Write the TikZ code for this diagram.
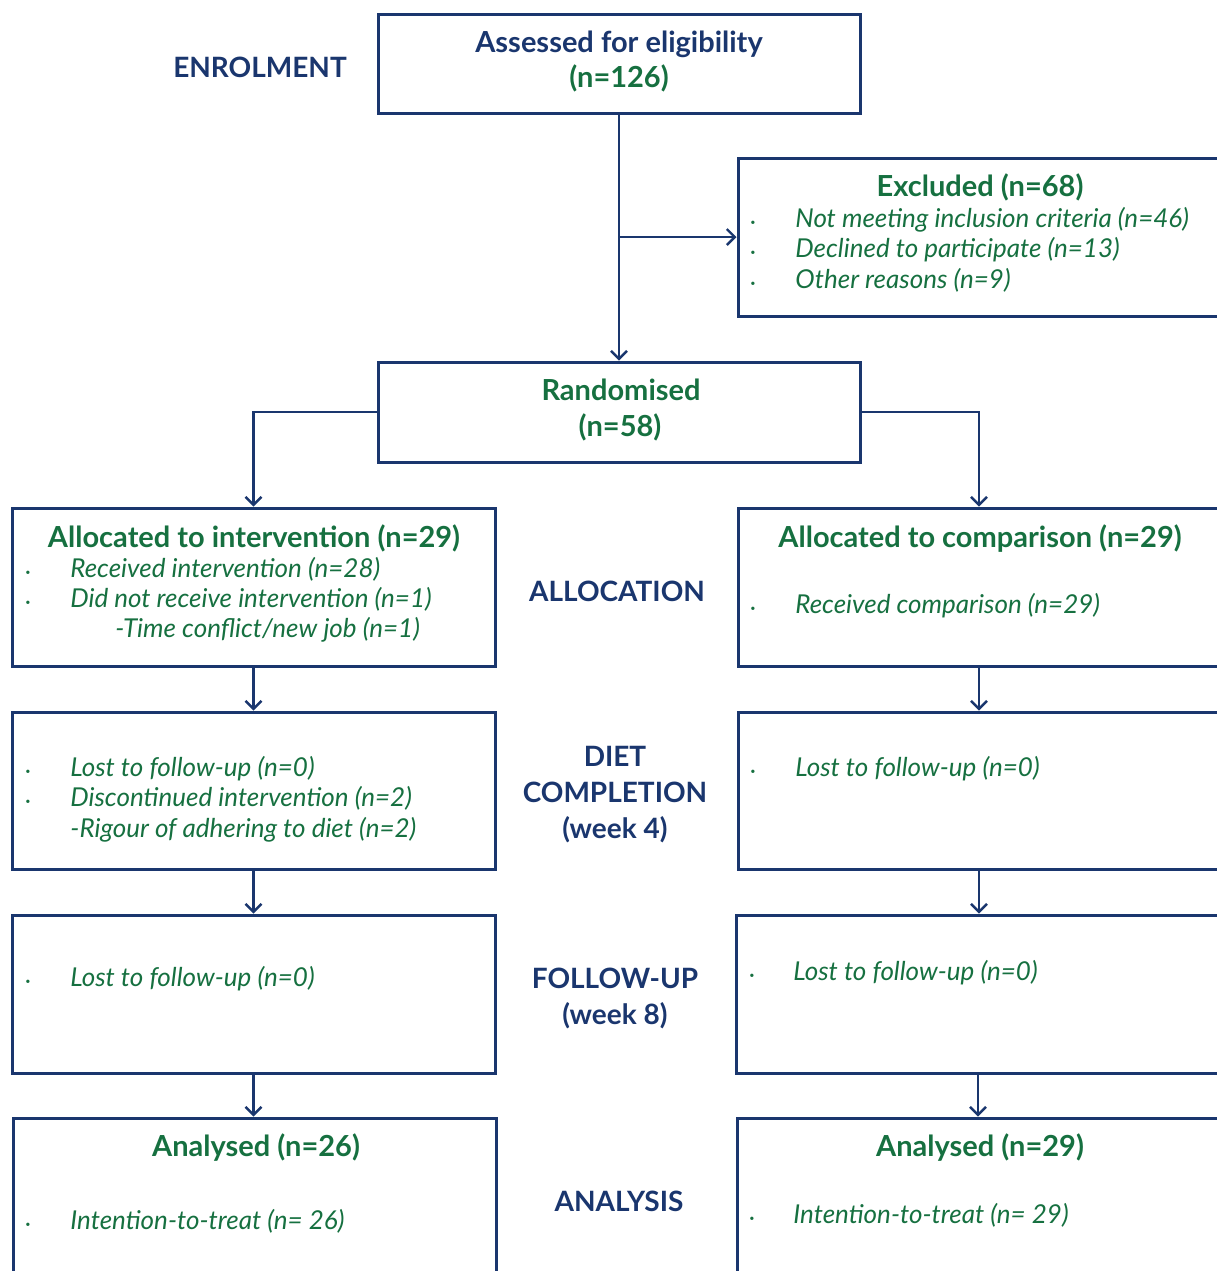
\documentclass[tikz,border=0pt]{standalone}
\usepackage{fontspec}
\setmainfont{Lato}
\usetikzlibrary{arrows.meta}
\definecolor{navy}{RGB}{26,54,110}
\definecolor{grn}{RGB}{22,112,64}
\begin{document}
\begin{tikzpicture}[x=0.5pt,y=-0.5pt,
 box/.style={draw=navy,line width=1.5pt,rectangle,inner sep=0pt},
 conn/.style={draw=navy,line width=1.4pt,-{Straight Barb[length=4pt,width=8pt,line width=1.2pt]}},
 lab/.style={text=navy,font=\bfseries\fontsize{14}{18}\selectfont,align=center,inner sep=0pt},
 ttl/.style={text=grn,font=\bfseries\fontsize{14.5}{16}\selectfont,anchor=base,inner sep=0pt},
 navt/.style={text=navy,font=\bfseries\fontsize{14.5}{16}\selectfont,anchor=base,inner sep=0pt},
 itm/.style={text=grn,font=\itshape\fontsize{13}{15}\selectfont,anchor=base west,inner sep=0pt},
 bul/.style={text=grn,font=\fontsize{4.5}{5}\selectfont,anchor=base,inner sep=0pt,yshift=1pt},
]
\useasboundingbox (0,0) rectangle (1217,1271);
\clip (0,0) rectangle (1217,1271);
% boxes
\node[box,minimum width=241pt,minimum height=49.5pt] (assess) at (619,63.5) {};
\node[box,minimum width=241pt,minimum height=79pt] (excl) at (979,237) {};
\node[box,minimum width=241pt,minimum height=50pt] (rand) at (619,412) {};
\node[box,minimum width=241.5pt,minimum height=79pt] (ai) at (253.5,587) {};
\node[box,minimum width=241pt,minimum height=79pt] (ac) at (979,587) {};
\node[box,minimum width=241.5pt,minimum height=78.5pt] (dl) at (253.5,790.5) {};
\node[box,minimum width=241pt,minimum height=78.5pt] (dr) at (979,790.5) {};
\node[box,minimum width=241.5pt,minimum height=79pt] (fl) at (253.5,994) {};
\node[box,minimum width=242pt,minimum height=79pt] (fr) at (978,994) {};
\node[box,minimum width=241.5pt,minimum height=86pt] (al) at (254.5,1204) {};
\node[box,minimum width=241.5pt,minimum height=86pt] (ar) at (978.5,1204) {};
% connectors
\draw[conn] (assess.south) -- (rand.north);
\draw[conn] (assess.south |- excl.west) -- (excl.west);
\draw[conn] (rand.west) -| (ai.north);
\draw[conn] (rand.east) -| (ac.north);
\draw[conn] (ai.south) -- (dl.north);
\draw[conn] (ac.south) -- (dr.north);
\draw[conn] (dl.south) -- (fl.north);
\draw[conn] (dr.south) -- (dr.south |- fr.north);
\draw[conn] (fl.south) -- (fl.south |- al.north);
\draw[conn] (fr.south) -- (fr.south |- ar.north);
% stage labels
\node[lab] (enrol) at (260,67) {ENROLMENT};
\node[lab] (alloc) at (617,591) {ALLOCATION};
\node[lab] (diet) at (615,795) {DIET\\COMPLETION\\(week 4)};
\node[lab] (fu) at (615,998) {FOLLOW-UP\\(week 8)};
\node[lab] (ana) at (619,1201) {ANALYSIS};
% assessed
\node[navt] (t1) at (619,52) {Assessed for eligibility};
\node[ttl] (t2) at (619,87) {(n=126)};
% excluded
\node[ttl] (t3) at (980,196) {Excluded (n=68)};
\node[bul] (b1) at (753,227) {\textbullet};
\node[itm] (e1) at (795,227) {Not meeting inclusion criteria (n=46)};
\node[bul] (b2) at (753,257) {\textbullet};
\node[itm] (e2) at (795,257) {Declined to participate (n=13)};
\node[bul] (b3) at (753,288) {\textbullet};
\node[itm] (e3) at (795,288) {Other reasons (n=9)};
% randomised
\node[ttl] (t4) at (621,400) {Randomised};
\node[ttl] (t5) at (620,436) {(n=58)};
% allocation left
\node[ttl] (t6) at (254,547) {Allocated to intervention (n=29)};
\node[bul] (b4) at (28,577) {\textbullet};
\node[itm] (a1) at (70,577) {Received intervention (n=28)};
\node[bul] (b5) at (28,607) {\textbullet};
\node[itm] (a2) at (70,607) {Did not receive intervention (n=1)};
\node[itm] (a3) at (115,637) {-Time conflict/new job (n=1)};
% allocation right
\node[ttl] (t7) at (980,547) {Allocated to comparison (n=29)};
\node[bul] (b6) at (753,613) {\textbullet};
\node[itm] (c1) at (795,613) {Received comparison (n=29)};
% diet left
\node[bul] (b7) at (28,776) {\textbullet};
\node[itm] (d1) at (70,776) {Lost to follow-up (n=0)};
\node[bul] (b8) at (28,806) {\textbullet};
\node[itm] (d2) at (70,806) {Discontinued intervention (n=2)};
\node[itm] (d3) at (70,837) {-Rigour of adhering to diet (n=2)};
% diet right
\node[bul] (b9) at (753,776) {\textbullet};
\node[itm] (d4) at (795,776) {Lost to follow-up (n=0)};
% follow-up
\node[bul] (b10) at (28,986) {\textbullet};
\node[itm] (f1) at (70,986) {Lost to follow-up (n=0)};
\node[bul] (b11) at (752,980) {\textbullet};
\node[itm] (f2) at (793,980) {Lost to follow-up (n=0)};
% analysis
\node[ttl] (t8) at (256,1156) {Analysed (n=26)};
\node[bul] (b12) at (28,1229) {\textbullet};
\node[itm] (n1) at (70,1229) {Intention-to-treat (n= 26)};
\node[ttl] (t9) at (980,1156) {Analysed (n=29)};
\node[bul] (b13) at (752,1223) {\textbullet};
\node[itm] (n2) at (793,1223) {Intention-to-treat (n= 29)};
\end{tikzpicture}
\end{document}
